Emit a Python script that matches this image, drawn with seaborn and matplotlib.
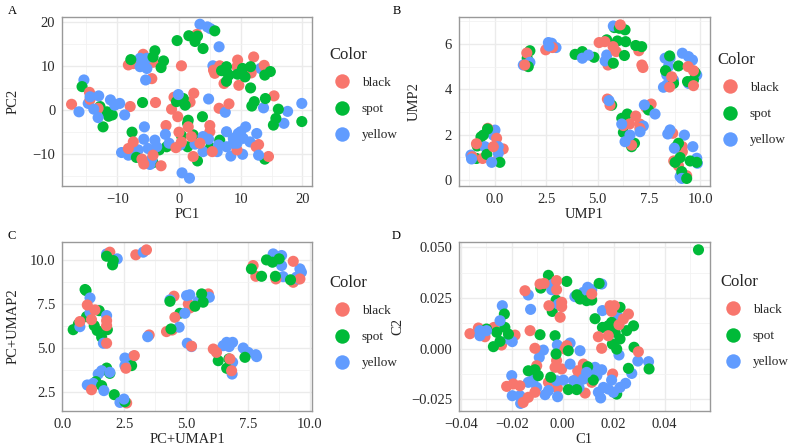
import matplotlib
matplotlib.use("Agg")
import matplotlib.pyplot as plt
import numpy as np
import pandas as pd
import seaborn as sns

COLORS = ["black", "spot", "yellow"]
PALETTE = {"black": "#F8766D", "spot": "#00BA38", "yellow": "#619CFF"}

a_black = [(-17.4,1.3),(-14.5,4),(-14.4,2.4),(-13.1,0.4),(-7.9,0.8),(-3.8,1.7),(-0.8,2.9),(2.4,3.8),(1.8,1.8),(-1.2,0.2),(-0.2,-1.5),(6.5,0.4),(8.1,1.4),(15.4,3.2),(0.4,10),(-8.2,10.2),(-7.4,10.5),(-5.8,12.6),(-6,11.7),(-4.4,7.1),(-4.2,10.8),(2.9,17.1),(12.1,12),(9.5,11.3),(9.4,9.8),(13.8,10.1),(14.2,9),(5.6,9),(5.8,8.3),(7.3,6),(9.7,5.6),(11.7,8.4),(6.6,10),(-2.1,-3.5),(1.5,-3.8),(5,-3.5),(5,-4.9),(0,-5),(2,-6),(0.4,-7.2),(-0.5,-8.5),(2.3,-10.5),(-2.9,-12.6),(-5.7,-12.2),(-6,-11.1),(-7.4,-7.2),(-8.2,-8.7),(-4.2,-10.2),(5.4,-9.4),(12.9,-7.8),(12.5,-8.3),(14.5,-10.5),(9.4,-9),(3.4,-7.5)]
a_spot = [(-15.7,5.3),(-12.8,0.8),(-11.7,-0.4),(-10.8,-1.1),(-11.4,-1.4),(-12.3,-3.8),(-5.9,1.7),(-7.6,-5),(1.2,1.5),(0.7,2.6),(-0.4,1.9),(1,1.1),(3.8,-1.5),(11.8,0.9),(12.2,1.9),(14,2.6),(11.6,5),(16.1,0.2),(15.7,-1.9),(15.3,-3.4),(19.9,-2.6),(13.9,-11.1),(3,-11.5),(1.5,-2.3),(1.4,-3),(0.4,-5.8),(1.4,-8.3),(2.3,-5.6),(5.1,-8.5),(6.6,-6.8),(-2,-8.3),(-3.2,-9),(-4.2,-11.9),(-6.9,-10.7),(-7.8,11.4),(-3.9,13.4),(-2.5,11.1),(-2.9,9.6),(-4.2,12),(-0.3,15.7),(1.6,16.8),(3,16.7),(2.6,15.5),(3.9,13.9),(5.8,17.9),(7.7,9.8),(6.9,8.9),(8.1,7.9),(7.7,6.5),(7.7,8.6),(10.3,9.4),(10.7,7.5),(11.6,9.8),(13.9,7.9),(14.8,8.7),(9.5,8.1)]
a_yellow = [(-15.4,6.8),(-16.2,-0.4),(-14.7,1.5),(-14.4,3),(-13,3.2),(-13.8,0.2),(-13.1,-1.7),(-11.1,2.3),(-10.4,1.1),(-9.6,1.5),(-8.8,-1.1),(-5.6,-3.8),(4.8,2.5),(-0.1,3.5),(7.5,-0.5),(13.7,0.5),(17.6,-0.3),(19.9,1.5),(17,-3),(3.4,19.4),(4.6,18.8),(5.1,18.4),(6.5,14.3),(5.5,10),(13.2,9.4),(-6.3,11.7),(-5.2,11.7),(-6.3,9.8),(-5.2,9.4),(-5.4,6.8),(-5.8,10.5),(-9.3,-9.6),(-8.2,-10.2),(-7.9,-9.4),(-6.6,-9),(-5.7,-6.6),(-5,-8.7),(-3.9,-6.8),(-3.6,-8.3),(-4.4,-11.1),(-4.7,-12.3),(-2.2,-5.5),(-1.6,-7.5),(0.2,-7.9),(0.5,-14.2),(1.7,-15.4),(2.6,-7.7),(3.9,-6),(4.8,-6.6),(3.9,-9.4),(6.2,-9.4),(6.4,-7.9),(7.7,-4.9),(7.7,-8.3),(8.4,-10.4),(8.8,-6.4),(9.6,-5.3),(10.8,-3.8),(10,-4.9),(10.4,-6.4),(11.5,-7.2),(12.6,-5.3),(10.3,-10),(12.9,-10.2),(9.4,-7.5),(8.8,-7.5)]

b_black = [(-1.1,1.03),(-0.6,0.95),(-0.35,2.28),(0.08,1.84),(0.4,1.37),(0.13,0.88),(-0.08,1.47),(-0.9,1.6),(1.55,5.6),(1.45,5.07),(2.47,5.74),(2.8,5.84),(5.07,6.06),(5.35,6.1),(5.5,5.22),(5.5,5.07),(5.9,5.66),(5.75,5.88),(6.1,6.84),(7,5.7),(7.15,5.07),(7.2,4.96),(5.47,3.57),(5.6,3.3),(7.6,3.35),(7.35,3.2),(6.85,2.82),(7.05,2.47),(6.25,2.4),(6.55,2.47),(7.05,2.28),(6.65,1.54),(8.65,2.06),(9.12,1.47),(9.12,1.25),(8.7,0.84),(8.93,0.63),(9.33,0.19),(8.5,4.1),(9.4,5),(9.66,4.82),(9.66,4.16),(8.6,4.55)]
b_spot = [(-0.9,0.95),(-0.86,1.5),(-0.68,1.9),(-0.57,1.98),(-0.36,2.25),(-0.4,1.13),(0.24,0.78),(1.57,5.37),(1.7,5.7),(1.62,5),(3.9,5.54),(4.25,5.66),(4.82,5.41),(5.44,6.18),(5.96,6.13),(6.36,6.1),(5.81,6.72),(6.05,6.69),(6.33,6.62),(6.3,5.49),(5.76,5.15),(6.85,5.93),(7.14,5.88),(5.68,3.3),(6.17,2.72),(6.44,2.91),(6.25,2.1),(6.65,1.47),(6.79,1.62),(7.47,3.09),(8.3,4.82),(8.5,5.47),(8.93,5.03),(9.37,4.34),(9.66,4.41),(9.74,4.74),(8.69,4.26),(8.82,1.47),(8.93,1.62),(9.01,0.99),(8.77,0.78),(9.5,0.84),(9.82,0.78),(9.09,0.37),(9.33,0.07)]
b_yellow = [(-1.17,1.1),(-1.14,0.93),(0,2.2),(-0.08,1.98),(-0.49,1.47),(0.16,1.47),(0.16,1.18),(-0.16,0.78),(1.38,5.07),(1.7,5.19),(2.6,6.06),(2.76,6.03),(2.97,5.84),(2.63,5.91),(4.25,5.37),(4.55,5.51),(5.44,5.51),(5.36,5.25),(5.76,6.79),(8.2,4.09),(8.36,4.19),(8.28,5.37),(8.52,5.37),(8.44,5),(8.36,4.63),(8.69,4.41),(9.12,5.59),(9.42,5.44),(9.61,5.29),(9.82,4.63),(9.42,4.26),(7.27,3.31),(7.79,2.91),(7.22,2.38),(7.06,2.13),(6.17,2.47),(6.57,1.98),(6.33,1.69),(8.52,2.21),(8.41,2.03),(9.22,1.98),(8.73,1.4),(9.63,1.47),(9.82,0.96),(9.85,0.74),(9.01,0.15),(9.09,0.07),(5.55,3.5)]

c_black = [(1.92,10.42),(2.97,10.27),(3.4,10.55),(7.71,9.66),(7.82,9.05),(8.63,8.9),(9.33,9.9),(9.33,8.71),(9.6,8.9),(4.51,7.92),(5.9,8.05),(5.09,7.48),(5.15,7.25),(4.55,6.72),(4.21,5.91),(4.44,6),(3.51,5.72),(1.01,7.42),(1.18,6.59),(1.32,7.14),(1.79,6.53),(1.79,6.25),(1.79,5.25),(0.71,6.48),(5.22,5.08),(6.1,4.92),(6.23,4.73),(6.77,4.36),(6.84,3.69),(2.91,4.55),(2.57,3.83),(1.18,2.61),(2.6,1.86)]
c_spot = [(0.92,8.3),(0.96,8.24),(0.44,6.02),(0.65,6.34),(0.98,6.76),(1.49,7.1),(1.29,6.25),(1.41,5.97),(1.59,5.59),(1.82,6.02),(1.79,10.19),(2.06,9.94),(2.03,9.7),(4.35,7.63),(4.75,6.95),(5.36,7.35),(5.63,8.05),(5.69,7.58),(4.39,6.06),(7.64,9.47),(8.05,9.05),(8.25,9.98),(8.49,9.85),(8.76,10.04),(8.61,9.05),(9.22,8.85),(6.3,4.26),(6.73,4.36),(6.64,3.83),(7.38,4.45),(2.8,3.98),(1.79,3.84),(1.92,3.54),(1.36,3.07),(1.59,2.84),(2.1,2.33),(2.53,1.93)]
c_yellow = [(1.79,10.32),(2.22,10.04),(3.27,10.42),(8.52,10.32),(8.86,10.23),(8.65,10.04),(8.86,9.66),(8.92,9.03),(9.46,9),(9.6,9.47),(9.66,9.28),(9.53,8.9),(1.12,7.82),(1.79,6.82),(0.71,6.19),(1.12,7),(1.66,5.25),(4.35,7.71),(5.02,7.95),(5.15,8),(5.49,7.63),(5.94,7.86),(4.95,6.95),(4.72,6.16),(3.45,5.62),(5.05,5.25),(5.22,5.06),(6.2,4.83),(6.5,5.11),(6.64,5.3),(6.88,5.3),(6.74,5.06),(7.31,4.98),(7.51,4.73),(7.82,4.6),(7.85,4.49),(6.88,4.17),(6.86,3.5),(2.53,4.41),(2.87,4.51),(2.53,3.98),(1.45,3.5),(1.59,3.69),(1.92,3.6),(1.01,2.88),(1.25,2.97),(1.68,2.56),(2.33,1.89),(2.49,2.08)]

d_black = [(-0.0364,0.0074),(-0.0331,0.0102),(-0.0305,0.0059),(-0.027,0.0105),(-0.024,0.0018),(-0.0187,0.0067),(-0.0148,0.0286),(-0.0089,0.0319),(-0.0073,0.0322),(-0.0024,0.0336),(-0.0024,0.0291),(-0.0054,0.0212),(-0.0004,0.0229),(-0.0004,0.0207),(-0.001,0.0155),(-0.0128,0.0089),(-0.0109,0.0002),(-0.0102,-0.0084),(0.0016,0.0015),(0.0009,-0.0002),(-0.0024,-0.0059),(-0.003,-0.0092),(-0.0004,-0.01),(0.0059,-0.0109),(0.0081,-0.0076),(0.0055,-0.015),(-0.0056,-0.0166),(-0.0021,-0.0194),(0.0088,-0.0219),(0.0114,-0.0166),(-0.022,-0.0186),(-0.0194,-0.0174),(-0.0168,-0.0183),(-0.0135,-0.024),(-0.0155,-0.0265),(-0.0109,-0.0215),(0.014,0.0059),(0.0179,0.0064),(0.0153,0.0002),(0.0196,-0.0125),(0.0297,-0.0015),(0.0186,0.0212),(0.0203,0.0212),(0.0192,0.0184),(0.0221,0.0118),(0.0258,0.0171),(0.0238,0.0146),(0.0114,0.027)]
d_spot = [(0.0533,0.0488),(-0.0056,0.0362),(0.0016,0.0332),(-0.0086,0.0299),(-0.0026,0.024),(-0.0041,0.0184),(-0.0089,0.0069),(-0.003,0.0064),(-0.0229,0.0171),(-0.0227,0.0105),(-0.0299,0.0097),(-0.0259,0.0081),(-0.0272,0.001),(-0.0246,0.0036),(-0.0213,0.0072),(0.0056,0.0266),(0.0068,0.0245),(0.0094,0.0237),(0.0114,0.024),(0.0143,0.0322),(0.0127,0.0148),(0.0156,0.0105),(0.0179,0.0113),(0.0192,0.013),(0.0225,0.0204),(0.0278,0.0113),(0.0251,0.0089),(0.0206,0.0081),(0.0225,0.0048),(0.0195,0.0023),(0.0212,-0.0002),(0.028,0.0007),(0.0258,-0.0097),(0.0339,-0.01),(0.0212,-0.0224),(-0.0135,-0.0109),(-0.0109,-0.0104),(-0.0096,-0.0133),(-0.0047,-0.0141),(-0.0026,-0.0026),(0.0022,-0.001),(0.0098,-0.0089),(0.0022,-0.0202),(0.0055,-0.0202),(0.012,-0.0155)]
d_yellow = [(-0.0237,0.0212),(-0.0126,0.0194),(-0.0135,0.0265),(-0.0043,0.0291),(-0.0037,0.0319),(0.0048,0.0257),(0.0081,0.0278),(0.0098,0.0303),(0.0114,0.0291),(0.0153,0.0319),(-0.0017,0.022),(0.0156,0.0188),(-0.0246,0.0138),(-0.0325,0.0089),(-0.0325,0.0064),(-0.0299,0.0089),(-0.0213,0.0048),(-0.0198,0.0035),(-0.0076,-0.0007),(-0.0092,-0.0043),(-0.0021,0.0018),(0.0029,0.0028),(0.0068,-0.001),(0.0221,-0.0031),(0.0219,0.0155),(0.0295,-0.0061),(0.0337,-0.0064),(0.0271,-0.0122),(0.0029,-0.0076),(-0.02,-0.0133),(-0.0198,-0.0232),(-0.0168,-0.0232),(-0.0165,-0.027),(-0.0135,-0.0166),(-0.0115,-0.015),(-0.0102,-0.0191),(-0.0069,-0.0227),(-0.0056,-0.0207),(-0.0024,-0.0158),(0.0003,-0.0155),(-0.002,-0.0237),(0.0042,-0.0158),(0.0064,-0.0191),(0.0127,-0.0092),(0.0153,-0.0104),(0.0114,-0.0117),(0.0134,-0.0133),(0.014,-0.0215),(0.0149,-0.0243),(0.016,-0.0191),(0.0192,-0.0155),(0.0199,-0.0215),(0.0225,-0.0191),(0.0247,-0.0171),(0.0179,-0.0199),(0.0081,-0.015),(0.0094,-0.0117)]


def make_frame(black, spot, yellow):
    # ggplot drew rows in file order, so colours overlap each other; walk through
    # the three lists evenly to get a similar mix
    rows = []
    for name, pts in zip(COLORS, [black, spot, yellow]):
        for i, (x, y) in enumerate(pts):
            rows.append({"x": x, "y": y, "Color": name, "order": (i + 0.5) / len(pts)})
    return pd.DataFrame(rows).sort_values("order", kind="stable")


def draw_panel(rect, df, xlabel, ylabel, xlim, ylim, xticks, yticks, xfmt, yfmt, legend_xy, ylabel_px):
    ax = fig.add_axes([rect[0] / W, 1 - rect[3] / H, (rect[2] - rect[0]) / W, (rect[3] - rect[1]) / H])
    sns.scatterplot(data=df, x="x", y="y", hue="Color", hue_order=COLORS, palette=PALETTE,
                    s=64, linewidth=0, alpha=1, ax=ax, zorder=3)
    ax.set_xticks(xticks)
    ax.set_yticks(yticks)
    ax.set_xticklabels([xfmt.format(v).replace("-", "\u2212") for v in xticks])
    ax.set_yticklabels([yfmt.format(v).replace("-", "\u2212") for v in yticks])
    xstep = xticks[1] - xticks[0]
    ystep = yticks[1] - yticks[0]
    ax.set_xticks(np.arange(xticks[0] - xstep / 2, xlim[1], xstep), minor=True)
    ax.set_yticks(np.arange(yticks[0] - ystep / 2, ylim[1], ystep), minor=True)
    # limits last, the minor ticks above would widen them otherwise
    ax.set_xlim(*xlim)
    ax.set_ylim(*ylim)
    ax.grid(which="major", color="#ebebeb", linewidth=1.0, zorder=0)
    ax.grid(which="minor", color="#f2f2f2", linewidth=0.6, zorder=0)
    ax.set_axisbelow(True)
    ax.tick_params(which="minor", length=0)
    ax.tick_params(which="major", length=2.5, width=0.7, color="#333333", labelsize=10.5, labelcolor="#2a2a2a", pad=2.5)
    ax.set_xlabel(xlabel, fontsize=10.5, labelpad=2)
    ax.set_ylabel(ylabel, fontsize=10.5)
    ax.yaxis.set_label_coords((ylabel_px - rect[0]) / (rect[2] - rect[0]), 0.5)
    for sp in ax.spines.values():
        sp.set_color("#999999")
        sp.set_linewidth(1.0)
    leg = ax.legend(title="Color", frameon=False, loc="upper left",
                    bbox_to_anchor=(legend_xy[0] / W, 1 - legend_xy[1] / H), bbox_transform=fig.transFigure,
                    fontsize=9.5, title_fontsize=12, labelspacing=1.05, handletextpad=0.5,
                    borderpad=0, borderaxespad=0, markerscale=1.3)
    leg._legend_box.align = "left"
    return ax


W, H = 790, 448
sns.set_theme(style="white")
plt.rcParams["font.family"] = ["Liberation Serif", "DejaVu Serif"]
plt.rcParams["axes.unicode_minus"] = True

fig = plt.figure(figsize=(W / 100, H / 100), dpi=100)

draw_panel((62.3, 16.7, 312.3, 185.7), make_frame(a_black, a_spot, a_yellow), "PC1", "PC2",
           (-18.9, 21.6), (-17.1, 21.1), [-10, 0, 10, 20], [-10, 0, 10, 20], "{:d}", "{:d}", (329, 47), 20)
draw_panel((459, 16.7, 709.7, 185.7), make_frame(b_black, b_spot, b_yellow), "UMP1", "UMP2",
           (-1.75, 10.45), (-0.25, 7.2), [0.0, 2.5, 5.0, 7.5, 10.0], [0, 2, 4, 6], "{:.1f}", "{:d}", (717, 52), 421)
draw_panel((62.3, 242.3, 312.3, 410.7), make_frame(c_black, c_spot, c_yellow), "PC+UMAP1", "PC+UMAP2",
           (0.0, 10.1), (1.42, 10.98), [0.0, 2.5, 5.0, 7.5, 10.0], [2.5, 5.0, 7.5, 10.0], "{:.1f}", "{:.1f}", (329, 275), 20)
draw_panel((459, 242.3, 709.7, 410.7), make_frame(d_black, d_spot, d_yellow), "C1", "C2",
           (-0.0407, 0.0577), (-0.0306, 0.0525), [-0.04, -0.02, 0.0, 0.02, 0.04], [-0.025, 0.0, 0.025, 0.05],
           "{:.2f}", "{:.3f}", (720, 274), 404)

for letter, px, py in [("A", 8, 11), ("B", 393, 11), ("C", 8, 236), ("D", 392, 236)]:
    fig.text(px / W, 1 - py / H, letter, fontsize=9, ha="left", va="center", color="black")

fig.savefig("out.png", dpi=100)
